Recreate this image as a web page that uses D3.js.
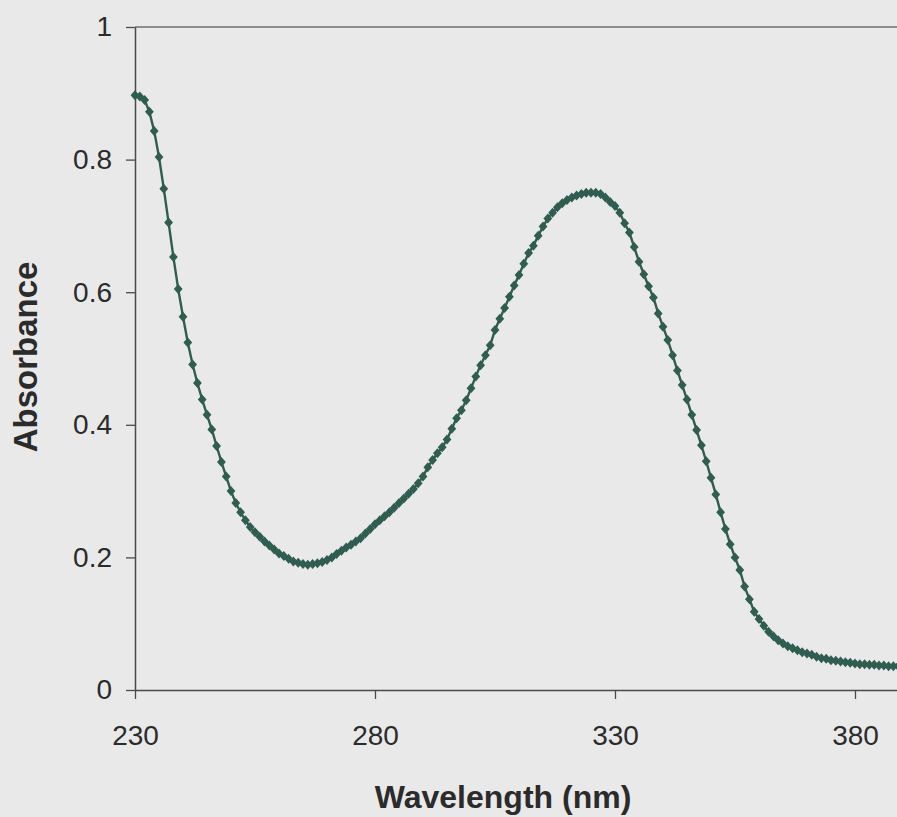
<!DOCTYPE html>
<html>
<head>
<meta charset="utf-8">
<script src="https://cdn.jsdelivr.net/npm/d3@7"></script>
<style>
  html, body { margin: 0; padding: 0; background: #e9e9e9; }
  svg { display: block; }
  text { font-family: "Liberation Sans", Arial, sans-serif; fill: #2b2b2b; }
</style>
</head>
<body>
<svg id="chart" width="897" height="817"></svg>
<script>
// UV-Vis absorption spectrum, one reading per nanometre
const wavelengthStart = 230;
const absorbance = [
  0.897, 0.895, 0.890, 0.872, 0.843, 0.804, 0.756, 0.705, 0.653, 0.605, // 230-239
  0.563, 0.524, 0.491, 0.463, 0.438, 0.415, 0.393, 0.368, 0.344, 0.322, // 240-249
  0.300, 0.282, 0.268, 0.256, 0.246, 0.238, 0.231, 0.224, 0.218, 0.212, // 250-259
  0.206, 0.202, 0.198, 0.194, 0.192, 0.190, 0.189, 0.190, 0.191, 0.193, // 260-269
  0.196, 0.200, 0.205, 0.210, 0.215, 0.219, 0.224, 0.229, 0.236, 0.243, // 270-279
  0.250, 0.256, 0.262, 0.268, 0.275, 0.282, 0.289, 0.296, 0.303, 0.312, // 280-289
  0.322, 0.336, 0.347, 0.357, 0.366, 0.378, 0.394, 0.410, 0.422, 0.437, // 290-299
  0.455, 0.473, 0.490, 0.505, 0.520, 0.543, 0.560, 0.576, 0.593, 0.610, // 300-309
  0.626, 0.643, 0.659, 0.670, 0.685, 0.699, 0.711, 0.720, 0.728, 0.734, // 310-319
  0.739, 0.743, 0.746, 0.748, 0.750, 0.750, 0.750, 0.748, 0.743, 0.736, // 320-329
  0.730, 0.720, 0.704, 0.690, 0.668, 0.646, 0.627, 0.609, 0.592, 0.568, // 330-339
  0.548, 0.528, 0.505, 0.482, 0.460, 0.438, 0.415, 0.392, 0.369, 0.345, // 340-349
  0.320, 0.295, 0.268, 0.243, 0.220, 0.200, 0.181, 0.156, 0.137, 0.118, // 350-359
  0.107, 0.097, 0.088, 0.081, 0.075, 0.070, 0.066, 0.063, 0.060, 0.057, // 360-369
  0.055, 0.053, 0.050, 0.048, 0.047, 0.045, 0.044, 0.043, 0.042, 0.041, // 370-379
  0.040, 0.039, 0.039, 0.038, 0.038, 0.037, 0.037, 0.036, 0.036, 0.036, // 380-389
  0.035                                                                  // 390
];
const xTicks = [230, 280, 330, 380];
const yTicks = [0, 0.2, 0.4, 0.6, 0.8, 1];
const xTitle = "Wavelength (nm)";
const yTitle = "Absorbance";

const data = absorbance.map((a, i) => ({ nm: wavelengthStart + i, a }));

const svg = d3.select("#chart");
const plot = { left: 135, right: 903, top: 27, bottom: 690 };

const x = d3.scaleLinear().domain([230, 390]).range([plot.left, plot.right]);
const y = d3.scaleLinear().domain([0, 1]).range([plot.bottom, plot.top]);

// top frame line at absorbance 1
svg.append("line")
  .attr("x1", plot.left).attr("x2", plot.right)
  .attr("y1", y(1)).attr("y2", y(1))
  .attr("stroke", "#6e6e6e").attr("stroke-width", 1.5);

// axes
const xAxis = svg.append("g")
  .attr("transform", `translate(0,${plot.bottom})`)
  .call(d3.axisBottom(x).tickValues(xTicks).tickFormat(d3.format("d"))
        .tickSize(9).tickPadding(26).tickSizeOuter(0));
const yAxis = svg.append("g")
  .attr("transform", `translate(${plot.left},0)`)
  .call(d3.axisLeft(y).tickValues(yTicks).tickFormat(d => d === 0 || d === 1 ? d3.format("d")(d) : d3.format(".1f")(d))
        .tickSize(9).tickPadding(14).tickSizeOuter(0));

[xAxis, yAxis].forEach(g => {
  g.select(".domain").attr("stroke", "#4a4a4a").attr("stroke-width", 1.5);
  g.selectAll(".tick line").attr("stroke", "#4a4a4a").attr("stroke-width", 1.3);
  g.selectAll(".tick text")
    .attr("font-family", "'Liberation Sans', Arial, sans-serif")
    .attr("font-size", 28).attr("fill", "#333333");
});

// spectrum line
const line = d3.line().x(d => x(d.nm)).y(d => y(d.a));
svg.append("path")
  .datum(data)
  .attr("fill", "none")
  .attr("stroke", "#2f5d4f")
  .attr("stroke-width", 2.4)
  .attr("d", line);

// diamond markers at each reading
svg.append("g")
  .selectAll("path")
  .data(data)
  .join("path")
  .attr("transform", d => `translate(${x(d.nm)},${y(d.a)})`)
  .attr("d", "M0,-5L4.4,0L0,5L-4.4,0Z")
  .attr("fill", "#2f5d4f");

// axis titles
svg.append("text")
  .attr("x", 503).attr("y", 808)
  .attr("text-anchor", "middle")
  .attr("font-size", 32).attr("font-weight", "bold")
  .text(xTitle);

svg.append("text")
  .attr("transform", "translate(37,357) rotate(-90)")
  .attr("text-anchor", "middle")
  .attr("font-size", 33).attr("font-weight", "bold")
  .text(yTitle);
</script>
</body>
</html>
